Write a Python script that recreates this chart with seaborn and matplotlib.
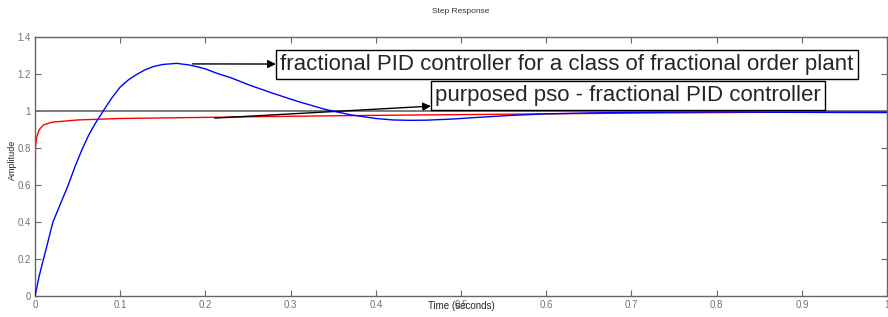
import matplotlib
matplotlib.use("Agg")
import matplotlib.pyplot as plt
import seaborn as sns
import pandas as pd

# step response
t_pid = [0, 0.005, 0.01, 0.015, 0.021, 0.03, 0.039, 0.047, 0.055, 0.063, 0.071,
         0.08, 0.09, 0.10, 0.11, 0.12, 0.13, 0.14, 0.15, 0.166, 0.18, 0.19,
         0.20, 0.213, 0.23, 0.252, 0.28, 0.31, 0.34, 0.37, 0.40, 0.42, 0.44,
         0.46, 0.49, 0.52, 0.56, 0.60, 0.65, 0.70, 0.80, 0.90, 1.00]
y_pid = [0, 0.11, 0.20, 0.29, 0.40, 0.50, 0.60, 0.70, 0.79, 0.87, 0.935,
         1.0, 1.07, 1.13, 1.17, 1.20, 1.225, 1.242, 1.252, 1.258, 1.25, 1.24,
         1.228, 1.205, 1.18, 1.14, 1.095, 1.05, 1.01, 0.98, 0.96, 0.952, 0.95,
         0.951, 0.957, 0.966, 0.977, 0.985, 0.99, 0.993, 0.995, 0.993, 0.992]

t_pso = [0, 0.0005, 0.002, 0.005, 0.01, 0.02, 0.05, 0.10, 0.20, 0.30, 0.40,
         0.50, 0.60, 0.70, 0.80, 0.90, 1.00]
y_pso = [0, 0.80, 0.86, 0.90, 0.925, 0.94, 0.952, 0.96, 0.966, 0.972, 0.977,
         0.981, 0.985, 0.989, 0.992, 0.995, 0.997]

label_pid = "fractional PID controller for a class of fractional order plant"
label_pso = "purposed pso - fractional PID controller"

x_ticks = [0, 0.1, 0.2, 0.3, 0.4, 0.5, 0.6, 0.7, 0.8, 0.9, 1.0]
y_ticks = [0, 0.2, 0.4, 0.6, 0.8, 1.0, 1.2, 1.4]

sns.set_style("ticks")
plt.rcParams["font.family"] = ["Liberation Sans", "DejaVu Sans"]

df_pid = pd.DataFrame({"t": t_pid, "y": y_pid})
df_pso = pd.DataFrame({"t": t_pso, "y": y_pso})

fig = plt.figure(figsize=(8.88, 3.17), dpi=100)
ax = fig.add_axes([0.0394, 0.066, 0.9596, 0.817])

ax.axhline(1.0, color="0.45", lw=1.3, zorder=1)
sns.lineplot(data=df_pid, x="t", y="y", ax=ax, color="blue", lw=1, zorder=3)
sns.lineplot(data=df_pso, x="t", y="y", ax=ax, color="red", lw=1, zorder=2)

ax.set_xlim(0, 1)
ax.set_ylim(0, 1.4)
ax.set_xticks(x_ticks)
ax.set_yticks(y_ticks)
ax.set_xticklabels(["%g" % v for v in x_ticks])
ax.set_yticklabels(["%g" % v for v in y_ticks])
ax.tick_params(direction="in", length=4, width=0.8, colors="0.4",
               labelsize=7, labelcolor="0.45", top=True, right=True, pad=3)
for s in ax.spines.values():
    s.set_color("0.4")
    s.set_linewidth(1)

ax.set_title("Step Response", fontsize=6, color="0.2", pad=17)
ax.set_xlabel("Time (seconds)", fontsize=7)
ax.xaxis.set_label_coords(0.5, -0.018)
ax.set_ylabel("Amplitude", fontsize=6.5)
ax.yaxis.set_label_coords(-0.021, 0.525)

box = dict(boxstyle="square,pad=0.18", fc="white", ec="black", lw=1)
arrow = dict(arrowstyle="<|-", color="black", lw=1, shrinkA=0, shrinkB=0,
             mutation_scale=12)
ax.annotate(label_pid, xy=(0.185, 1.255), xytext=(0.288, 1.252),
            fontsize=16, ha="left", va="center", bbox=box, arrowprops=arrow,
            zorder=5)
ax.annotate(label_pso, xy=(0.211, 0.962), xytext=(0.470, 1.086),
            fontsize=16, ha="left", va="center", bbox=box, arrowprops=arrow,
            zorder=5)

fig.savefig("out.png", dpi=100)
